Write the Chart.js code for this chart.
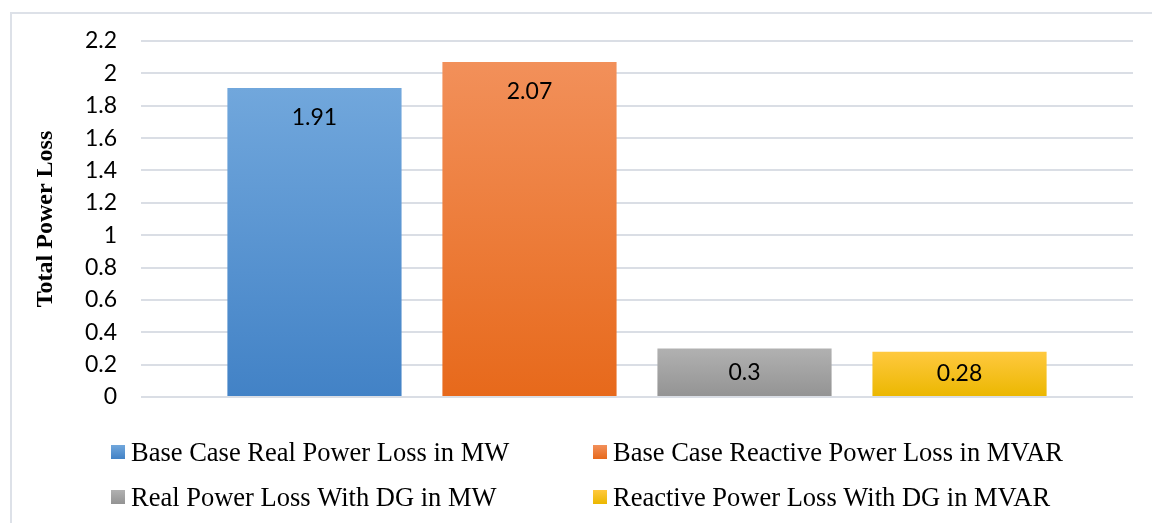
<!DOCTYPE html>
<html>
<head>
<meta charset="utf-8">
<script src="https://cdn.jsdelivr.net/npm/chart.js@4"></script>
<style>
  html, body { margin: 0; padding: 0; background: #ffffff; }
  #wrap { position: relative; width: 1152px; height: 523px; overflow: hidden; }
  #frame { position: absolute; left: 10px; top: 12px; width: 1200px; height: 600px;
           border-left: 2px solid #dde1e8; border-top: 2px solid #dde1e8; box-sizing: border-box; }
  canvas { position: absolute; left: 0; top: 0; }
</style>
</head>
<body>
<div id="wrap">
  <div id="frame"></div>
  <canvas id="c" width="1152" height="523"></canvas>
</div>
<script>
// Loss figures for the base case and after DG placement
const categories = [''];
const seriesNames = [
  'Base Case Real Power Loss in MW',
  'Base Case Reactive Power Loss in MVAR',
  'Real Power Loss With DG in MW',
  'Reactive Power Loss With DG in MVAR'
];
const baseRealMW = [1.91];
const baseReactiveMVAR = [2.07];
const dgRealMW = [0.3];
const dgReactiveMVAR = [0.28];
const tickLabels = ['0', '0.2', '0.4', '0.6', '0.8', '1', '1.2', '1.4', '1.6', '1.8', '2', '2.2'];

// top / bottom colours of each bar's vertical gradient
const gradientStops = [
  ['#71a7dc', '#4282c6'],
  ['#f2905a', '#e7691b'],
  ['#b1b1b1', '#939393'],
  ['#ffc93f', '#ebb700']
];

function barGradient(ctx, i, top, bottom) {
  const g = ctx.createLinearGradient(0, top, 0, bottom);
  g.addColorStop(0, gradientStops[i][0]);
  g.addColorStop(1, gradientStops[i][1]);
  return g;
}

function fillFor(i) {
  return function (context) {
    const chart = context.chart;
    const y = chart.scales.y;
    if (!chart.chartArea || !y || context.raw === undefined) return gradientStops[i][1];
    return barGradient(chart.ctx, i, y.getPixelForValue(context.raw), y.getPixelForValue(0));
  };
}

const seriesValues = [baseRealMW, baseReactiveMVAR, dgRealMW, dgReactiveMVAR];

// value labels drawn inside the top end of each bar
const valueLabels = {
  id: 'valueLabels',
  afterDatasetsDraw(chart) {
    const ctx = chart.ctx;
    ctx.save();
    ctx.font = '23px Lato';
    ctx.fillStyle = '#000000';
    ctx.textAlign = 'center';
    ctx.textBaseline = 'middle';
    chart.data.datasets.forEach((ds, i) => {
      chart.getDatasetMeta(i).data.forEach((bar, j) => {
        const top = bar.y, base = bar.base;
        const ly = Math.min(top + 30, (top + base) / 2);
        ctx.fillText(String(ds.data[j]), bar.x, ly);
      });
    });
    ctx.restore();
  }
};

// two-column legend below the plot
const gridLegend = {
  id: 'gridLegend',
  afterDraw(chart) {
    const ctx = chart.ctx;
    const cols = [111, 593];
    const rows = [452, 497];
    ctx.save();
    ctx.font = '26.5px "Liberation Serif"';
    ctx.fillStyle = '#000000';
    ctx.textBaseline = 'middle';
    ctx.textAlign = 'left';
    chart.data.datasets.forEach((ds, i) => {
      const x = cols[i % 2], y = rows[Math.floor(i / 2)];
      ctx.fillStyle = barGradient(ctx, i, y - 7, y + 7);
      ctx.fillRect(x, y - 7, 14, 14);
      ctx.fillStyle = '#000000';
      ctx.fillText(ds.label, x + 20, y + 2);
    });
    ctx.restore();
  }
};

new Chart(document.getElementById('c'), {
  type: 'bar',
  data: {
    labels: categories,
    datasets: seriesNames.map((name, i) => ({
      label: name,
      data: seriesValues[i],
      backgroundColor: fillFor(i),
      borderWidth: 0,
      categoryPercentage: 0.867,
      barPercentage: 0.81
    }))
  },
  options: {
    responsive: false,
    animation: false,
    layout: { padding: { top: 41, right: 19, bottom: 126, left: 0 } },
    plugins: {
      legend: { display: false },
      tooltip: { enabled: false }
    },
    scales: {
      x: { display: false },
      y: {
        min: 0,
        max: 2.2,
        ticks: {
          stepSize: 0.2,
          padding: 24,
          color: '#000000',
          font: { family: 'Lato', size: 23 },
          callback: (v, idx) => tickLabels[idx]
        },
        grid: { color: '#dadee5', lineWidth: 2, drawTicks: false },
        border: { display: false },
        title: {
          display: true,
          text: 'Total Power Loss',
          color: '#000000',
          font: { family: 'Liberation Serif', size: 24, weight: 'bold' },
          padding: { top: 31, bottom: 0 }
        },
        afterFit(scale) { scale.width = 141; }
      }
    }
  },
  plugins: [valueLabels, gridLegend]
});
</script>
</body>
</html>
